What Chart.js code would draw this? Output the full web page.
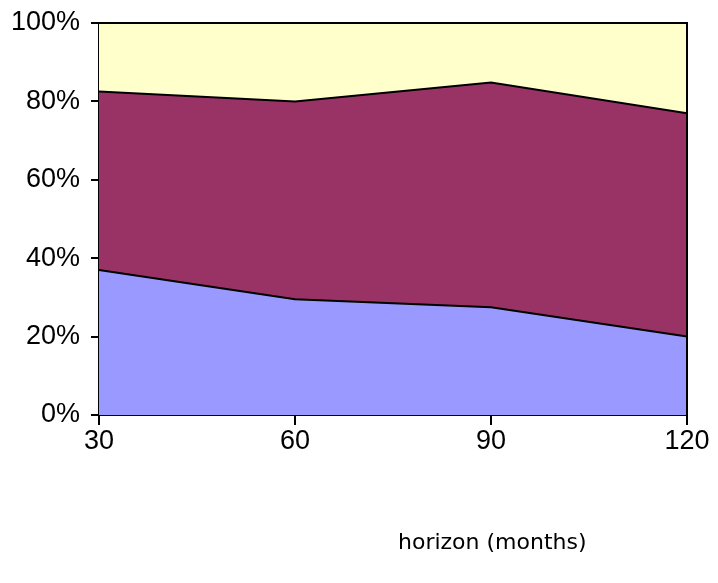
<!DOCTYPE html>
<html>
<head>
<meta charset="utf-8">
<script src="https://cdn.jsdelivr.net/npm/chart.js@4/dist/chart.umd.min.js"></script>
<style>
    html, body { margin: 0; padding: 0; background: #fff; }
    #wrap { width: 718px; height: 583px; position: relative; }
</style>
</head>
<body>
<div id="wrap"><canvas id="areaChart"></canvas></div>
<script>
// horizon in months
const horizons = ['30', '60', '90', '120'];
// shares per horizon, in percent (stacked to 100)
const lowerShare = [37, 29.5, 27.5, 20];
const middleShare = [45.5, 50.5, 57.3, 57];
const upperShare = [17.5, 20, 15.2, 23];
const yTicks = [0, 20, 40, 60, 80, 100];
const xTitle = 'horizon (months)';

const tickFont = { family: "'Liberation Sans', Arial, sans-serif", size: 27 };

// frame on top and right side + axis title placed like the original
const framePlugin = {
    id: 'frame',
    afterDatasetsDraw(chart) {
        const { ctx, chartArea } = chart;
        ctx.save();
        ctx.strokeStyle = '#000';
        ctx.lineWidth = 2;
        ctx.beginPath();
        ctx.moveTo(chartArea.left, chartArea.top);
        ctx.lineTo(chartArea.right, chartArea.top);
        ctx.lineTo(chartArea.right, chartArea.bottom);
        ctx.stroke();
        ctx.restore();
    },
    afterDraw(chart) {
        const { ctx } = chart;
        ctx.save();
        ctx.fillStyle = '#000';
        ctx.font = "22px 'DejaVu Sans', sans-serif";
        ctx.textAlign = 'left';
        ctx.textBaseline = 'middle';
        ctx.fillText(xTitle, 398, 543);
        ctx.restore();
    },
};

new Chart(document.getElementById('areaChart'), {
    type: 'line',
    data: {
        labels: horizons,
        datasets: [
            {
                label: 'lower',
                data: lowerShare,
                backgroundColor: '#9999FF',
                borderColor: '#000',
                borderWidth: 2,
                fill: 'origin',
            },
            {
                label: 'middle',
                data: middleShare,
                backgroundColor: '#993366',
                borderColor: '#000',
                borderWidth: 2,
                fill: '-1',
            },
            {
                label: 'upper',
                data: upperShare,
                backgroundColor: '#FFFFCC',
                borderColor: '#000',
                borderWidth: 2,
                fill: '-1',
            },
        ],
    },
    options: {
        responsive: true,
        maintainAspectRatio: false,
        animation: false,
        layout: { padding: { left: 0, right: 31, top: 23, bottom: 0 } },
        elements: { point: { radius: 0 }, line: { tension: 0 } },
        plugins: {
            legend: { display: false },
            tooltip: { enabled: false },
        },
        scales: {
            x: {
                type: 'category',
                offset: false,
                grid: { drawOnChartArea: false, color: '#000', tickLength: 10, lineWidth: 2 },
                border: { color: '#000', width: 2 },
                ticks: { color: '#000', font: tickFont, padding: 0, maxRotation: 0 },
                afterFit: (scale) => {
                    scale.height = 168;
                    scale.paddingLeft = 0;
                    scale.paddingRight = 0;
                },
            },
            y: {
                stacked: true,
                min: 0,
                max: 100,
                afterBuildTicks: (scale) => { scale.ticks = yTicks.map((v) => ({ value: v })); },
                grid: { drawOnChartArea: false, color: '#000', tickLength: 8, lineWidth: 2 },
                border: { color: '#000', width: 2 },
                ticks: { color: '#000', font: tickFont, padding: 11, callback: (v) => v + '%' },
                afterFit: (scale) => {
                    scale.width = 99;
                    scale.paddingTop = 0;
                    scale.paddingBottom = 0;
                },
            },
        },
    },
    plugins: [framePlugin],
});
</script>
</body>
</html>
